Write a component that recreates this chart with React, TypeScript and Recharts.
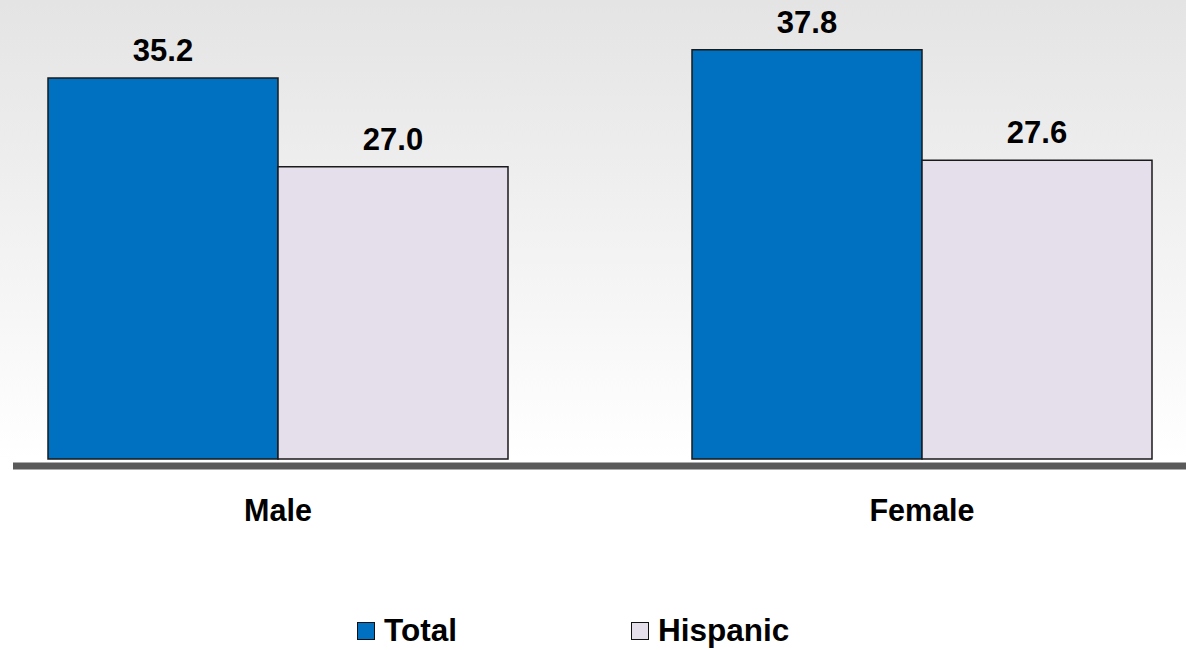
import React from "react";
import { BarChart, Bar, XAxis, YAxis, Legend, LabelList } from "recharts";

const categories = ["Male", "Female"];
const totalValues = [35.2, 37.8];
const hispanicValues = [27.0, 27.6];

const seriesNames = { total: "Total", hispanic: "Hispanic" };
const colors = { total: "#0070C0", hispanic: "#E5DFEC" };

const data = categories.map((name, i) => ({
  name,
  total: totalValues[i],
  hispanic: hispanicValues[i],
}));

const FONT = "'Liberation Sans', Arial, Helvetica, sans-serif";

const CategoryTick = (props: any) => {
  const { x, y, payload } = props;
  return (
    <text x={x} y={y} dy={55} textAnchor="middle" fontFamily={FONT} fontWeight="bold" fontSize={30.5} fill="#000">
      {payload.value}
    </text>
  );
};

const LegendContent = () => (
  <div style={{ display: "flex", fontFamily: FONT, fontWeight: "bold", fontSize: 31.5, color: "#000" }}>
    {[
      { key: "total", left: 357 },
      { key: "hispanic", left: 631 },
    ].map((item) => (
      <div key={item.key} style={{ position: "absolute", left: item.left, top: 0, display: "flex", alignItems: "center" }}>
        <span
          style={{
            display: "inline-block",
            width: 16,
            height: 16,
            background: colors[item.key as "total" | "hispanic"],
            border: "1px solid #111",
            marginRight: 9,
          }}
        />
        <span>{seriesNames[item.key as "total" | "hispanic"]}</span>
      </div>
    ))}
  </div>
);

export default function App() {
  return (
    <div
      style={{
        position: "absolute",
        left: 0,
        top: 0,
        width: 1186,
        height: 650,
        background: "linear-gradient(#e4e4e4 0px, #ffffff 460px, #ffffff 650px)",
      }}
    >
      <BarChart
        width={1186}
        height={650}
        data={data}
        margin={{ top: 26, right: 0, left: 13, bottom: 124 }}
        barCategoryGap={92}
        barGap={0}
      >
        <XAxis
          dataKey="name"
          height={60}
          padding={{ left: -57, right: -58 }}
          axisLine={{ stroke: "#5a5a5a", strokeWidth: 7 }}
          tickLine={false}
          tickSize={0}
          tickMargin={0}
          tick={<CategoryTick />}
        />
        <YAxis hide domain={[0, 40]} padding={{ top: 0, bottom: 7 }} />
        <Legend
          layout="horizontal"
          verticalAlign="middle"
          align="center"
          content={<LegendContent />}
          wrapperStyle={{ position: "absolute", left: 0, top: 612, width: 1186, height: 38 }}
        />
        <Bar dataKey="total" name={seriesNames.total} fill={colors.total} stroke="#1a1a1a" strokeWidth={1.5} isAnimationActive={false}>
          <LabelList dataKey="total" position="top" offset={17} fill="#000" fontFamily={FONT} fontWeight="bold" fontSize={31} formatter={(v: any) => Number(v).toFixed(1)} />
        </Bar>
        <Bar dataKey="hispanic" name={seriesNames.hispanic} fill={colors.hispanic} stroke="#1a1a1a" strokeWidth={1.5} isAnimationActive={false}>
          <LabelList dataKey="hispanic" position="top" offset={17} fill="#000" fontFamily={FONT} fontWeight="bold" fontSize={31} formatter={(v: any) => Number(v).toFixed(1)} />
        </Bar>
      </BarChart>
    </div>
  );
}
